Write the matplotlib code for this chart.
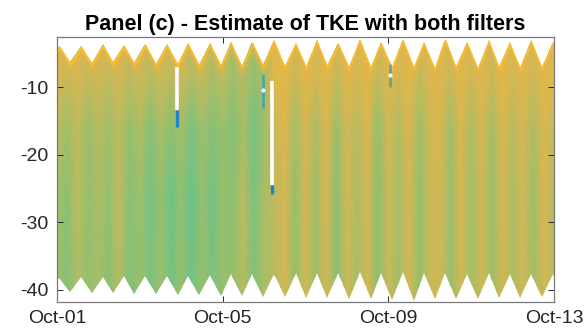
import matplotlib.pyplot as plt
import numpy as np
from matplotlib.colors import LinearSegmentedColormap
from matplotlib.patches import Polygon

plt.rcParams["font.family"] = ["Liberation Sans", "DejaVu Sans"]
plt.rcParams["axes.unicode_minus"] = False

# Tide extremes (days since Oct-01) and the matching surface / bottom levels (m)
high_days = [-0.46, 0.06, 0.58, 1.10, 1.61, 2.13, 2.65, 3.17, 3.69, 4.20, 4.72, 5.24,
             5.76, 6.27, 6.79, 7.31, 7.83, 8.35, 8.86, 9.38, 9.90, 10.42, 10.93,
             11.45, 11.97, 12.49]
low_days = [-0.20, 0.32, 0.84, 1.36, 1.87, 2.39, 2.91, 3.43, 3.95, 4.46, 4.98, 5.50,
            6.02, 6.53, 7.05, 7.57, 8.09, 8.61, 9.12, 9.64, 10.16, 10.68, 11.19,
            11.71, 12.23, 12.75]
surface_high = [-3.8, -3.8, -3.8, -3.6, -3.7, -3.5, -3.6, -3.4, -3.4, -3.2, -3.3, -3.0,
                -3.4, -2.9, -3.4, -2.8, -3.3, -2.8, -3.3, -2.8, -3.2, -2.9, -3.3,
                -3.0, -3.2, -3.2]
surface_low = [-6.3, -6.3, -6.4, -6.3, -6.4, -6.5, -6.5, -6.6, -6.6, -6.8, -6.7, -6.8,
               -6.9, -6.8, -7.0, -6.9, -7.0, -6.9, -7.1, -7.0, -7.1, -7.0, -7.1,
               -7.0, -7.0, -7.0]
bottom_high = [-38.2, -38.2, -38.1, -38.1, -38.0, -38.0, -37.9, -37.9, -37.8, -37.7,
               -37.6, -37.6, -37.5, -37.5, -37.5, -37.4, -37.5, -37.4, -37.5, -37.5,
               -37.6, -37.5, -37.6, -37.6, -37.6, -37.6]
bottom_low = [-40.4, -40.4, -40.5, -40.5, -40.6, -40.7, -40.8, -40.8, -40.9, -41.0,
              -41.1, -41.1, -41.2, -41.2, -41.3, -41.3, -41.5, -41.6, -41.4, -41.3,
              -41.3, -41.2, -41.2, -41.1, -41.1, -41.1]

# TKE colour index on a coarse time grid (every 6 h) at four depths
tke_days = np.arange(0, 12.01, 0.25)
tke_depths = [-42, -38, -26, -16, -8, -2]
tke_upper = [0.80, 0.70, 0.78, 0.68, 0.76, 0.66, 0.78, 0.64, 0.74, 0.62, 0.72, 0.64,
             0.74, 0.60, 0.70, 0.58, 0.66, 0.54, 0.62, 0.50, 0.58, 0.82, 0.84, 0.70,
             0.84, 0.74, 0.84, 0.68, 0.82, 0.76, 0.84, 0.66, 0.82, 0.74, 0.84, 0.66,
             0.80, 0.82, 0.70, 0.84, 0.72, 0.82, 0.70, 0.84, 0.76, 0.82, 0.72, 0.84, 0.78]
tke_mid = [0.64, 0.54, 0.66, 0.52, 0.62, 0.54, 0.64, 0.50, 0.60, 0.46, 0.58, 0.48,
           0.56, 0.42, 0.54, 0.46, 0.52, 0.46, 0.58, 0.40, 0.54, 0.68, 0.80, 0.56,
           0.78, 0.58, 0.80, 0.52, 0.76, 0.62, 0.80, 0.50, 0.76, 0.60, 0.80, 0.54,
           0.72, 0.78, 0.54, 0.80, 0.58, 0.78, 0.56, 0.80, 0.62, 0.78, 0.58, 0.80, 0.66]
tke_lower = [0.56, 0.48, 0.64, 0.50, 0.58, 0.50, 0.66, 0.46, 0.54, 0.40, 0.52, 0.38,
             0.50, 0.36, 0.52, 0.40, 0.50, 0.48, 0.64, 0.42, 0.58, 0.64, 0.78, 0.50,
             0.76, 0.54, 0.78, 0.48, 0.74, 0.58, 0.78, 0.48, 0.72, 0.56, 0.78, 0.50,
             0.70, 0.76, 0.52, 0.78, 0.54, 0.76, 0.52, 0.78, 0.58, 0.76, 0.54, 0.78, 0.62]
tke_deep = [0.54, 0.46, 0.60, 0.50, 0.56, 0.48, 0.62, 0.46, 0.52, 0.42, 0.54, 0.40,
            0.52, 0.38, 0.52, 0.42, 0.52, 0.50, 0.62, 0.44, 0.58, 0.62, 0.76, 0.50,
            0.74, 0.52, 0.76, 0.46, 0.72, 0.56, 0.76, 0.48, 0.70, 0.54, 0.76, 0.50,
            0.68, 0.74, 0.50, 0.76, 0.54, 0.74, 0.52, 0.76, 0.58, 0.74, 0.54, 0.76, 0.62]

# Missing samples (white) with the strong values just beneath them
gap_days = [2.89, 5.20]
gap_top = [-7.0, -9.0]
gap_bottom = [-13.4, -24.5]
gap_tail = [-15.8, -25.8]
spot_days = [4.97, 8.04]
spot_depths = [-10.4, -8.1]
spot_top = [-8.0, -6.5]
spot_bottom = [-13.0, -10.0]

tick_days = [0, 4, 8, 12]
tick_labels = ["Oct-01", "Oct-05", "Oct-09", "Oct-13"]

cmap = LinearSegmentedColormap.from_list("tke", [
    (0.00, "#1978c8"), (0.20, "#3caabe"), (0.35, "#64c391"), (0.50, "#93c06e"),
    (0.65, "#c0bb5e"), (0.80, "#ddb650"), (1.00, "#fbbd26")])

fig = plt.figure(figsize=(5.85, 3.31), dpi=100)
ax = fig.add_axes([0.0974, 0.088, 0.8496, 0.8006])

# surface and bottom edges as a zig-zag between tide extremes
edge_days = np.ravel(np.column_stack([high_days, low_days]))
edge_top = np.ravel(np.column_stack([surface_high, surface_low]))
edge_bot = np.ravel(np.column_stack([bottom_high, bottom_low]))
outline = np.vstack([np.column_stack([edge_days, edge_top]),
                     np.column_stack([edge_days[::-1], edge_bot[::-1]])])
clip = Polygon(outline, closed=True, facecolor="none", edgecolor="none")
ax.add_patch(clip)

field = np.array([tke_deep, tke_deep, tke_lower, tke_mid, tke_upper, tke_upper])
X, Y = np.meshgrid(tke_days, tke_depths)
mesh = ax.pcolormesh(X, Y, field, shading="gouraud", cmap=cmap, vmin=0, vmax=1)
mesh.set_clip_path(clip)

# bright band just below the surface
ax.fill_between(edge_days, edge_top - 0.5, edge_top - 1.8, color="#e4b44e",
                alpha=0.5, lw=0)
ax.fill_between(edge_days, edge_top, edge_top - 0.6, color="#fbbe2a", lw=0)

ax.vlines(spot_days, spot_bottom, spot_top, colors="#2f9cbc", lw=2.0, alpha=0.7)
ax.vlines(gap_days, gap_tail, gap_bottom, colors="#1f86c4", lw=2.4)
ax.vlines(gap_days, gap_bottom, gap_top, colors="white", lw=2.6)
ax.scatter(spot_days, spot_depths, s=9, color="white", lw=0, zorder=3)

ax.set_xlim(0, 12)
ax.set_ylim(-41.8, -2.5)
ax.set_xticks(tick_days)
ax.set_xticklabels(tick_labels)
ax.set_yticks([-40, -30, -20, -10])
ax.tick_params(direction="in", top=True, right=True, length=4, width=0.7,
               colors="#262626", labelsize=14, pad=6)
for s in ax.spines.values():
    s.set_color("#7a7a7a")
    s.set_linewidth(0.9)
ax.set_title("Panel (c) - Estimate of TKE with both filters", fontsize=15.5,
             fontweight="bold", pad=5)

fig.savefig("out.png", dpi=100)
